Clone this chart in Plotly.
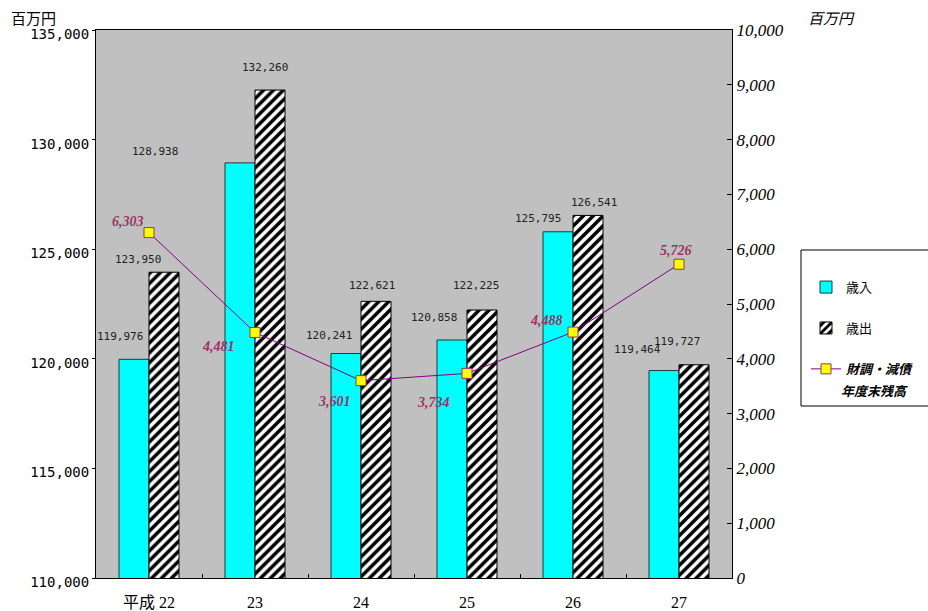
import plotly.graph_objects as go

# Fiscal years (Heisei era) and values in millions of yen
years = ["22", "23", "24", "25", "26", "27"]
year_labels = ["平成 22", "23", "24", "25", "26", "27"]
revenue = [119976, 128938, 120241, 120858, 125795, 119464]       # 歳入
expenditure = [123950, 132260, 122621, 122225, 126541, 119727]   # 歳出
fund_balance = [6303, 4481, 3601, 3734, 4488, 5726]              # 財調・減債 年度末残高

# Pixel offsets of the value labels from their marks (dx, dy-up)
rev_label_off = [(-29, 23), (-100, 11), (-32, 18), (-33, 22), (-35, 13), (-42, 21)]
exp_label_off = [(-11, 13), (10, 23), (11, 16), (9, 25), (21, 13), (-2, 23)]
bal_label_off = [(-21, 11), (-37, -14), (-27, -21), (-34, -29), (-27, 12), (-3, 14)]

BAR_FONT = dict(family="DejaVu Sans Mono", size=11, color="#222222")
BAL_FONT = dict(family="Liberation Serif, Noto Sans CJK JP", size=14, color="#993366",
                weight="bold", style="italic")

fig = go.Figure()

fig.add_trace(go.Bar(
    x=years, y=revenue, name="歳入", legendgroup="a",
    marker=dict(color="#00FFFF", line=dict(color="#1a3a3a", width=1)),
))
fig.add_trace(go.Bar(
    x=years, y=expenditure, name="歳出", legendgroup="b",
    marker=dict(color="white", line=dict(color="black", width=1),
                pattern=dict(shape="/", fgcolor="black", bgcolor="white",
                             fgopacity=1, size=7, solidity=0.5, fillmode="replace")),
))
fig.add_trace(go.Scatter(
    x=years, y=fund_balance, yaxis="y2", mode="lines+markers", legendgroup="c",
    name="<b><i>財調・減債</i></b>",
    line=dict(color="#800080", width=1),
    marker=dict(symbol="square", size=10, color="#FFFF00",
                line=dict(color="#993366", width=1)),
))

annotations = []
for i in range(len(years)):
    dx, dy = rev_label_off[i]
    annotations.append(dict(x=i, y=revenue[i], xref="x", yref="y",
                            text=f"{revenue[i]:,}", showarrow=False,
                            xshift=dx, yshift=dy, font=BAR_FONT))
    dx, dy = exp_label_off[i]
    annotations.append(dict(x=i, y=expenditure[i], xref="x", yref="y",
                            text=f"{expenditure[i]:,}", showarrow=False,
                            xshift=dx, yshift=dy, font=BAR_FONT))
    dx, dy = bal_label_off[i]
    annotations.append(dict(x=i, y=fund_balance[i], xref="x", yref="y2",
                            text=f"{fund_balance[i]:,}", showarrow=False,
                            xshift=dx, yshift=dy, font=BAL_FONT))

# Unit captions above both value axes
annotations.append(dict(x=-0.099, y=1.022, xref="paper", yref="paper",
                        xanchor="center", yanchor="middle",
                        text="百万円", showarrow=False,
                        font=dict(family="Noto Sans CJK JP", size=15, color="black")))
annotations.append(dict(x=1.157, y=1.022, xref="paper", yref="paper",
                        xanchor="center", yanchor="middle",
                        text="<i>百万円</i>", showarrow=False,
                        font=dict(family="Noto Sans CJK JP", size=15, color="black")))

# Second line of the balance series' legend caption
annotations.append(dict(x=(874 - 96) / 636, y=(578 - 390) / 548, xref="paper", yref="paper",
                        xanchor="center", yanchor="middle",
                        text="<b><i>年度末残高</i></b>", showarrow=False,
                        font=dict(family="Noto Sans CJK JP", size=13, color="black")))

# Legend frame, open past the right edge of the page
legend_frame = dict(type="rect", xref="paper", yref="paper",
                    x0=(801 - 96) / 636, x1=(940 - 96) / 636,
                    y0=(578 - 406) / 548, y1=(578 - 250) / 548,
                    line=dict(color="black", width=1), fillcolor="white", layer="below")

fig.update_layout(
    width=928, height=611,
    margin=dict(l=96, r=196, t=30, b=33, autoexpand=False),
    paper_bgcolor="white",
    plot_bgcolor="#C0C0C0",
    barmode="group",
    bargap=0.434,
    bargroupgap=0,
    showlegend=True,
    shapes=[legend_frame],
    legend=dict(
        x=(806 - 96) / 636, y=0.5985, xanchor="left", yanchor="top",
        bgcolor="rgba(0,0,0,0)", borderwidth=0,
        font=dict(family="Noto Sans CJK JP", size=13, color="black"),
        title=dict(text=" ", font=dict(size=17)),
        tracegroupgap=21, traceorder="grouped",
    ),
    xaxis=dict(
        type="category", tickvals=years, ticktext=year_labels,
        range=[-0.5, 5.5], tickangle=0, automargin=False,
        showline=True, linecolor="black", linewidth=1, mirror=True,
        ticks="inside", tickson="boundaries", ticklen=4, tickcolor="black",
        showgrid=False, ticklabelstandoff=10,
        tickfont=dict(family="Liberation Serif, Noto Sans CJK JP", size=16, color="black"),
    ),
    yaxis=dict(
        range=[110000, 135000], dtick=5000, tickformat=",", automargin=False,
        showline=True, linecolor="black", linewidth=1,
        ticks="outside", ticklen=3, tickcolor="black",
        showgrid=False, zeroline=False, ticklabelshift=4,
        tickfont=dict(family="DejaVu Sans Mono", size=14, color="black"),
    ),
    yaxis2=dict(
        range=[0, 10000], dtick=1000, tickformat=",", automargin=False,
        overlaying="y", side="right",
        showline=True, linecolor="black", linewidth=1,
        ticks="inside", ticklen=5, tickcolor="black",
        showgrid=False, zeroline=False,
        tickfont=dict(family="Liberation Serif", size=17, color="black", style="italic"),
    ),
    annotations=annotations,
)

fig.write_html("out.html")
